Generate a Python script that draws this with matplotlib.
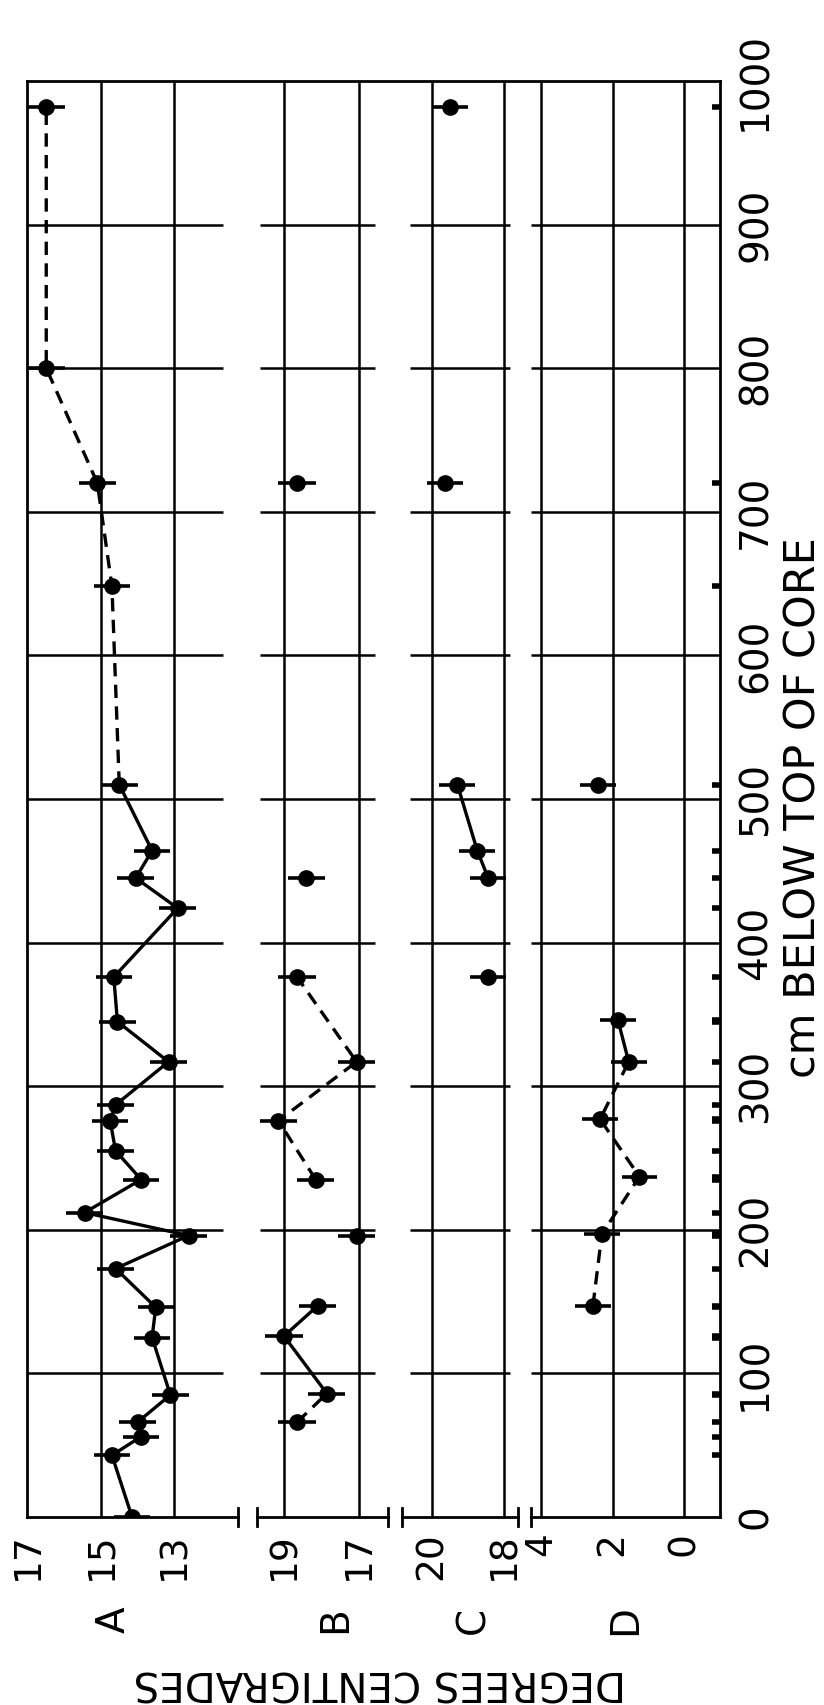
import matplotlib
matplotlib.use('Agg')
from matplotlib import pyplot as plt

# depth in cm below top of core, temperature in degrees C
a_depth = [0, 43, 56, 66, 85, 125, 146, 173, 196, 212, 235, 255, 276, 287, 317,
           345, 376, 424, 445, 464, 510, 648, 720, 800, 982]
a_temp = [14.15, 14.7, 13.9, 14.0, 13.1, 13.6, 13.5, 14.6, 12.6, 15.45, 13.9, 14.6,
          14.75, 14.6, 13.15, 14.55, 14.65, 12.9, 14.05, 13.6, 14.5, 14.7, 15.1, 16.5, 16.5]
a_runs = [(0, 20, '-'), (20, 24, '--')]

b_depth = [66, 86, 126, 147, 196, 235, 276, 317, 376, 445, 720]
b_temp = [18.65, 17.85, 19.0, 18.1, 17.05, 18.15, 19.15, 17.05, 18.65, 18.4, 18.65]
b_runs = [(0, 1, '--'), (1, 3, '-'), (5, 8, '--')]

c_depth = [376, 445, 464, 510, 720, 982]
c_temp = [18.45, 18.45, 18.75, 19.3, 19.65, 19.5]
c_runs = [(1, 3, '-')]

d_depth = [147, 197, 237, 277, 317, 346, 510]
d_temp = [2.55, 2.3, 1.25, 2.35, 1.55, 1.85, 2.4]
d_runs = [(0, 4, '--'), (4, 5, '-')]

temp_err = 0.5

a_ticks = [17, 15, 13]
b_ticks = [19, 17]
c_ticks = [20, 18]
d_ticks = [4, 2, 0]
depth_ticks = list(range(0, 1001, 100))
grid_depths = list(range(100, 1000, 100))

W, H = 824, 1705
TOP, BOTTOM = 81, 1517
LEFT, RIGHT = 27, 720
LW_FRAME = 2.0
LW_GRID = 1.8
LW_DATA = 2.4


def add_px_axes(fig, x0, x1):
    return fig.add_axes([x0 / W, (H - BOTTOM) / H, (x1 - x0) / W, (BOTTOM - TOP) / H])


def temp_limits(x0, x1, t0, p0, scale):
    # temperature grows to the left
    return t0 + (p0 - x0) / scale, t0 - (x1 - p0) / scale


fig = plt.figure(figsize=(W / 100, H / 100), dpi=100)

frame = add_px_axes(fig, LEFT, RIGHT)
frame.set_xlim(0, 1)
frame.set_ylim(0, 1000)
frame.set_xticks([])
frame.set_yticks([])
frame.spines['bottom'].set_visible(False)
for side in ['left', 'right', 'top']:
    frame.spines[side].set_linewidth(LW_FRAME)

panels = [
    dict(depth=a_depth, temp=a_temp, runs=a_runs, ticks=a_ticks, grid=[15, 13],
         px=(27, 238), anchor=(17, 28, 36.5), hspan=(17.03, 11.65), ends=[1],
         letter='A', letter_x=114),
    dict(depth=b_depth, temp=b_temp, runs=b_runs, ticks=b_ticks, grid=[19, 17],
         px=(257, 388), anchor=(19, 284, 37.25), hspan=(19.64, 16.55), ends=[0, 1],
         letter='B', letter_x=335),
    dict(depth=c_depth, temp=c_temp, runs=c_runs, ticks=c_ticks, grid=[20, 18],
         px=(402, 518), anchor=(20, 432, 36.25), hspan=(20.6, 17.85), ends=[0, 1],
         letter='C', letter_x=473),
    dict(depth=d_depth, temp=d_temp, runs=d_runs, ticks=d_ticks, grid=[4, 2, 0],
         px=(531, 720), anchor=(4, 541, 35.8), hspan=None, ends=[0],
         letter='D', letter_x=625),
]

axes = []
for p in panels:
    x0, x1 = p['px']
    ax = add_px_axes(fig, x0, x1)
    ax.set_facecolor('none')
    xl = temp_limits(x0, x1, *p['anchor'])
    ax.set_xlim(*xl)
    ax.set_ylim(0, 1000)
    for side in ['left', 'right', 'top']:
        ax.spines[side].set_visible(False)
    ax.spines['bottom'].set_linewidth(LW_FRAME)

    h0, h1 = p['hspan'] if p['hspan'] else xl
    ax.hlines(grid_depths, h0, h1, color='k', lw=LW_GRID, zorder=1)
    ax.vlines(p['grid'], 0, 1000, color='k', lw=LW_GRID, zorder=1)

    for i0, i1, ls in p['runs']:
        ax.plot(p['temp'][i0:i1 + 1], p['depth'][i0:i1 + 1], color='k', lw=LW_DATA,
                ls=ls, dashes=(4, 2.5) if ls == '--' else (None, None), zorder=2)
    ax.errorbar(p['temp'], p['depth'], xerr=temp_err, fmt='o', color='k', ms=11,
                elinewidth=2.6, capsize=0, zorder=3)

    trans = ax.get_yaxis_transform()
    for xa in p['ends']:
        ax.plot([xa, xa], [-6.5, 6.5], transform=trans, color='k', lw=LW_FRAME,
                clip_on=False)

    ax.set_xticks(p['ticks'])
    ax.set_xticklabels([str(t) for t in p['ticks']])
    ax.tick_params(axis='x', length=0, pad=11, labelsize=27, labelrotation=90)
    ax.set_yticks([])

    fig.text(p['letter_x'] / W, 1 - 1620 / H, p['letter'], rotation=90,
             ha='center', va='center', fontsize=28)
    axes.append(ax)

ax_d = axes[-1]
sample_depths = sorted(set(a_depth + b_depth + c_depth + d_depth))
ax_d.set_yticks(depth_ticks)
ax_d.set_yticklabels([str(d) for d in depth_ticks])
ax_d.set_yticks(sample_depths, minor=True)
ax_d.tick_params(axis='y', which='major', left=False, labelleft=False, right=True,
                 labelright=True, length=0, pad=12, labelsize=28, labelrotation=90)
ax_d.tick_params(axis='y', which='minor', left=False, right=True, direction='in',
                 length=6, width=4)
for lbl in ax_d.get_yticklabels():
    lbl.set_va('center')

fig.text(803 / W, 1 - 808 / H, 'cm BELOW TOP OF CORE', rotation=90,
         ha='center', va='center', fontsize=31)
fig.text(380 / W, 1 - 1682 / H, 'DEGREES CENTIGRADES', rotation=180,
         ha='center', va='center', fontsize=29)

fig.savefig('out.png', dpi=100)
